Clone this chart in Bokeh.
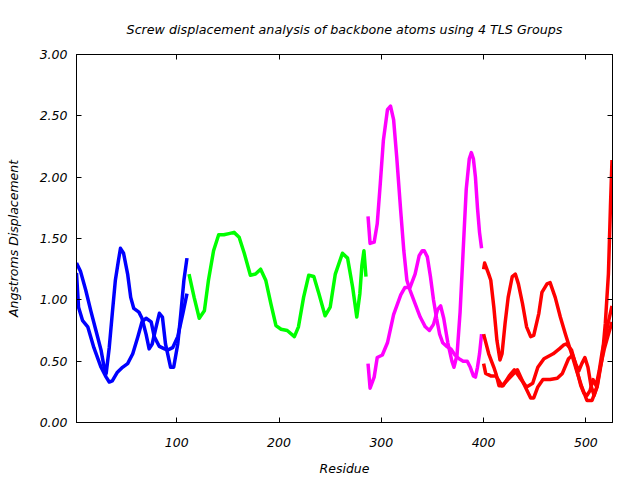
from bokeh.plotting import figure
from bokeh.models import Range1d, LinearAxis, FixedTicker, PrintfTickFormatter, CustomJSTickFormatter
from bokeh.embed import file_html
from bokeh.resources import INLINE

title_text = "Screw displacement analysis of backbone atoms using 4 TLS Groups"
x_label = "Residue"
y_label = "Angstroms Displacement"
x_ticks = [100, 200, 300, 400, 500]
y_ticks = [0.0, 0.5, 1.0, 1.5, 2.0, 2.5, 3.0]

# TLS group 1 (blue)
blue_a_res = [2, 6, 11, 16, 21, 26, 29, 31, 34, 37, 40, 43, 45, 48, 52, 55, 58, 63, 66, 70, 73, 76, 79, 83, 86, 89, 94, 97, 101, 104, 107, 110]
blue_a_val = [1.30, 1.23, 1.08, 0.91, 0.75, 0.59, 0.45, 0.40, 0.61, 0.89, 1.16, 1.32, 1.42, 1.38, 1.21, 1.02, 0.93, 0.90, 0.85, 0.72, 0.60, 0.64, 0.75, 0.89, 0.86, 0.64, 0.45, 0.45, 0.64, 0.89, 1.16, 1.34]
blue_b_res = [2, 3, 4, 8, 13, 19, 26, 31, 34, 37, 42, 47, 52, 57, 62, 66, 70, 75, 78, 83, 88, 91, 96, 101, 106, 110]
blue_b_val = [1.22, 1.08, 0.94, 0.83, 0.78, 0.61, 0.45, 0.37, 0.33, 0.34, 0.41, 0.45, 0.48, 0.56, 0.70, 0.82, 0.85, 0.82, 0.70, 0.62, 0.60, 0.59, 0.61, 0.70, 0.89, 1.05]

# TLS group 2 (green)
green_res = [112, 117, 122, 127, 131, 136, 141, 146, 151, 156, 161, 166, 172, 177, 182, 187, 192, 197, 202, 208, 215, 219, 224, 229, 234, 239, 245, 250, 255, 262, 267, 272, 276, 279, 281, 283, 285]
green_val = [1.21, 1.02, 0.85, 0.91, 1.16, 1.40, 1.53, 1.53, 1.54, 1.55, 1.51, 1.38, 1.20, 1.21, 1.25, 1.16, 0.97, 0.79, 0.76, 0.75, 0.70, 0.78, 1.02, 1.20, 1.19, 1.05, 0.87, 0.94, 1.21, 1.38, 1.34, 1.10, 0.86, 1.05, 1.28, 1.40, 1.19]

# TLS group 3 (magenta)
mag_a_res = [287, 289, 293, 296, 299, 302, 306, 309, 312, 315, 319, 322, 325, 328, 333, 338, 343, 347, 351, 355, 358, 361, 365, 369, 371, 374, 377, 380, 383, 386, 388, 390, 392, 394, 396, 398]
mag_a_val = [1.68, 1.46, 1.47, 1.62, 1.95, 2.30, 2.55, 2.58, 2.47, 2.17, 1.72, 1.40, 1.16, 1.08, 0.97, 0.86, 0.78, 0.75, 0.80, 0.92, 0.95, 0.85, 0.65, 0.50, 0.45, 0.55, 0.90, 1.40, 1.90, 2.15, 2.20, 2.15, 2.00, 1.75, 1.55, 1.42]
mag_b_res = [287, 289, 293, 296, 301, 306, 312, 319, 323, 328, 333, 337, 340, 342, 345, 348, 351, 354, 357, 360, 364, 368, 372, 376, 380, 384, 387, 390, 392, 394, 396, 398]
mag_b_val = [0.48, 0.28, 0.37, 0.53, 0.55, 0.65, 0.88, 1.04, 1.10, 1.10, 1.21, 1.36, 1.40, 1.40, 1.35, 1.19, 1.00, 0.85, 0.72, 0.65, 0.62, 0.60, 0.55, 0.52, 0.50, 0.50, 0.45, 0.38, 0.37, 0.45, 0.56, 0.72]

# TLS group 4 (red)
red_a_res = [400, 401, 405, 407, 410, 413, 416, 418, 421, 424, 428, 431, 434, 438, 442, 446, 449, 454, 457, 462, 465, 470, 475, 480, 483, 486, 491, 496, 501, 506, 511, 516, 519, 522, 524, 525.5]
red_a_val = [1.25, 1.30, 1.21, 1.16, 0.94, 0.67, 0.51, 0.56, 0.81, 1.02, 1.19, 1.21, 1.13, 0.97, 0.78, 0.70, 0.71, 0.89, 1.06, 1.13, 1.14, 1.02, 0.86, 0.72, 0.64, 0.56, 0.42, 0.29, 0.18, 0.18, 0.29, 0.53, 0.81, 1.21, 1.76, 2.14]
red_b_res = [400, 405, 410, 412, 415, 419, 425, 430, 435, 442, 448, 453, 459, 468, 474, 478, 481, 486, 489, 492, 495, 498, 501, 504, 507, 510, 513, 516, 519, 522, 525.5]
red_b_val = [0.72, 0.56, 0.45, 0.40, 0.30, 0.30, 0.38, 0.43, 0.37, 0.29, 0.32, 0.45, 0.52, 0.56, 0.60, 0.63, 0.64, 0.59, 0.50, 0.40, 0.30, 0.24, 0.22, 0.26, 0.35, 0.30, 0.42, 0.58, 0.70, 0.82, 0.95]
red_c_res = [400, 402, 407, 412, 418, 425, 433, 439, 446, 449, 453, 458, 465, 472, 477, 483, 487, 490, 493, 496, 499, 502, 505, 508, 511, 514, 518, 522, 525.5]
red_c_val = [0.48, 0.40, 0.38, 0.38, 0.30, 0.36, 0.43, 0.32, 0.20, 0.20, 0.29, 0.35, 0.35, 0.36, 0.40, 0.52, 0.55, 0.48, 0.42, 0.48, 0.53, 0.45, 0.30, 0.22, 0.30, 0.45, 0.60, 0.72, 0.82]

FONT = "DejaVu Sans"

p = figure(width=640, height=480, output_backend="svg", toolbar_location=None,
           x_range=Range1d(2, 526), y_range=Range1d(0, 3),
           min_border_left=76, min_border_right=28, min_border_top=54, min_border_bottom=58,
           background_fill_color="white", border_fill_color="white")

p.title.text = title_text
p.title.align = "center"
p.title.text_font = FONT
p.title.text_font_style = "italic"
p.title.text_font_size = "12.7px"
p.title.text_color = "black"
p.title.standoff = 36

p.outline_line_color = "black"
p.outline_line_width = 1
p.xgrid.visible = False
p.ygrid.visible = False

def style_axis(ax):
    ax.axis_line_color = "black"
    ax.major_tick_in = 5
    ax.major_tick_out = 0
    ax.minor_tick_line_color = None
    ax.major_tick_line_color = "black"
    ax.major_label_text_font = FONT
    ax.major_label_text_font_style = "italic"
    ax.major_label_text_font_size = "12.5px"
    ax.major_label_text_color = "black"
    ax.axis_label_text_font = FONT
    ax.axis_label_text_font_style = "italic"
    ax.axis_label_text_font_size = "12.5px"
    ax.axis_label_text_color = "black"

xa = p.xaxis[0]
style_axis(xa)
xa.ticker = FixedTicker(ticks=x_ticks)
xa.axis_label = x_label
xa.major_label_standoff = 15
xa.axis_label_standoff = 11

ya = p.yaxis[0]
style_axis(ya)
ya.ticker = FixedTicker(ticks=y_ticks)
ya.formatter = PrintfTickFormatter(format="%.2f")
ya.axis_label = y_label
ya.major_label_standoff = 9
ya.axis_label_standoff = 16

blank = CustomJSTickFormatter(code="return ''")
top = LinearAxis(ticker=FixedTicker(ticks=x_ticks), formatter=blank)
style_axis(top)
p.add_layout(top, "above")
right = LinearAxis(ticker=FixedTicker(ticks=y_ticks), formatter=blank)
style_axis(right)
p.add_layout(right, "right")

series = [
    (blue_a_res, blue_a_val, "#0000ff"),
    (blue_b_res, blue_b_val, "#0000ff"),
    (green_res, green_val, "#00ff00"),
    (mag_a_res, mag_a_val, "#ff00ff"),
    (mag_b_res, mag_b_val, "#ff00ff"),
    (red_a_res, red_a_val, "#ff0000"),
    (red_b_res, red_b_val, "#ff0000"),
    (red_c_res, red_c_val, "#ff0000"),
]
for xs, ys, c in series:
    p.line(xs, ys, line_color=c, line_width=3.5, line_join="round")

open("out.html", "w").write(file_html(p, INLINE))
